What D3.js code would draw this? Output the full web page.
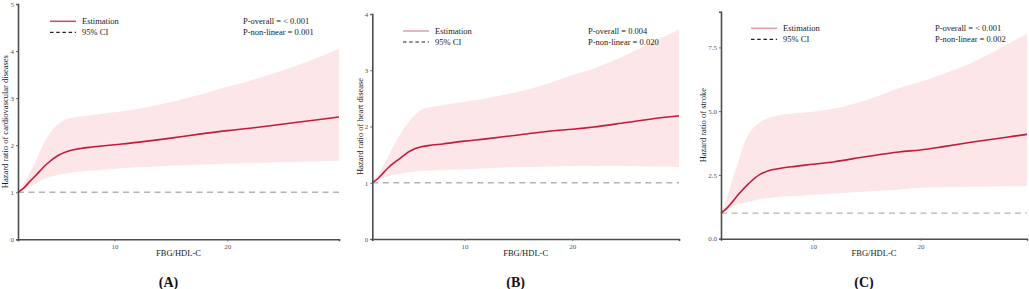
<!DOCTYPE html>
<html><head><meta charset="utf-8">
<script src="https://cdn.jsdelivr.net/npm/d3@7"></script>
<style>body{margin:0;background:#fff}svg{display:block}text{font-family:"Liberation Serif","Times New Roman",serif}</style>
</head><body><svg id="c" width="1029" height="289"></svg>
<script>
const xValues = [1.45, 2, 2.5, 3, 4, 5, 6, 7, 8, 10, 12, 15, 18, 20, 22, 25, 28, 29.9];
const estA   = [1, 1.1, 1.23, 1.35, 1.6, 1.78, 1.88, 1.93, 1.96, 2.01, 2.06, 2.15, 2.25, 2.31, 2.36, 2.45, 2.54, 2.60];
const upperA = [1, 1.2, 1.43, 1.65, 2.15, 2.45, 2.57, 2.61, 2.64, 2.70, 2.77, 2.92, 3.1, 3.24, 3.37, 3.6, 3.86, 4.05];
const lowerA = [1, 1.05, 1.12, 1.18, 1.3, 1.37, 1.41, 1.44, 1.46, 1.5, 1.53, 1.57, 1.59, 1.61, 1.62, 1.64, 1.66, 1.67];
const estB   = [1, 1.08, 1.18, 1.28, 1.43, 1.57, 1.64, 1.67, 1.69, 1.74, 1.78, 1.85, 1.92, 1.95, 1.99, 2.07, 2.15, 2.19];
const upperB = [1, 1.15, 1.32, 1.5, 1.85, 2.12, 2.3, 2.35, 2.38, 2.44, 2.5, 2.62, 2.78, 2.91, 3.03, 3.27, 3.55, 3.72];
const lowerB = [1, 1.04, 1.09, 1.12, 1.16, 1.19, 1.21, 1.22, 1.23, 1.24, 1.26, 1.28, 1.29, 1.30, 1.30, 1.30, 1.29, 1.28];
const estC   = [1, 1.2, 1.44, 1.7, 2.15, 2.5, 2.68, 2.76, 2.82, 2.92, 3.02, 3.22, 3.4, 3.48, 3.6, 3.8, 3.98, 4.09];
const upperC = [1, 1.6, 2.3, 2.95, 4.1, 4.55, 4.75, 4.85, 4.9, 4.98, 5.1, 5.44, 5.9, 6.16, 6.45, 6.94, 7.6, 8.05];
const lowerC = [1, 1.12, 1.25, 1.35, 1.45, 1.55, 1.6, 1.64, 1.67, 1.72, 1.77, 1.85, 1.93, 2.0, 2.02, 2.04, 2.06, 2.07];
const xTicks = [10, 20];
const yTicksA = [0, 1, 2, 3, 4, 5];
const yTicksB = [0, 1, 2, 3, 4];
const yTicksC = [0, 2.5, 5, 7.5];
const yTitles = ["Hazard ratio of cardiovascular diseases", "Hazard ratio of heart disease", "Hazard ratio of stroke"];
const pOverall = ["P-overall = < 0.001", "P-overall = 0.004", "P-overall = < 0.001"];
const pNonLinear = ["P-non-linear = 0.001", "P-non-linear = 0.020", "P-non-linear = 0.002"];
const panelLabels = ["(A)", "(B)", "(C)"];
const xTitle = "FBG/HDL-C";
const legendLabels = ["Estimation", "95% CI"];

const panels = [
  {est: estA, up: upperA, lo: lowerA, yTicks: yTicksA, yMax: 5, fmt: d3.format("d"),
   x0: 18, x1: 339, y0: 239.3, yTop: 4, yLab: 5, legX: 50, legY: 21.3, pX: 243, legColor: "#d9475e"},
  {est: estB, up: upperB, lo: lowerB, yTicks: yTicksB, yMax: 4, fmt: d3.format("d"),
   x0: 372.3, x1: 679, y0: 239, yTop: 14, yLab: 360, legX: 403, legY: 31, pX: 588, legColor: "#e69aa6"},
  {est: estC, up: upperC, lo: lowerC, yTicks: yTicksC, yMax: 8.9, fmt: d3.format(".1f"),
   x0: 721, x1: 1027, y0: 238.7, yTop: 11.7, yLab: 703, legX: 751, legY: 28.3, pX: 935, legColor: "#e69aa6"}
];

const svg = d3.select("#c");
const curve = d3.curveCatmullRom.alpha(0.5);
panels.forEach((p, i) => {
  const x = d3.scaleLinear().domain([xValues[0], xValues[xValues.length - 1]]).range([p.x0, p.x1]);
  const y = d3.scaleLinear().domain([0, p.yMax]).range([p.y0, p.yTop]);
  const g = svg.append("g");
  const rows = xValues.map((v, j) => ({x: v, e: p.est[j], u: p.up[j], l: p.lo[j]}));

  g.append("path").datum(rows)
    .attr("d", d3.area().curve(curve).x(d => x(d.x)).y0(d => y(d.l)).y1(d => y(d.u)))
    .attr("fill", "#fce6e8");

  g.append("line").attr("x1", x.range()[0]).attr("x2", x.range()[1])
    .attr("y1", y(1)).attr("y2", y(1))
    .attr("stroke", "#b3b3b3").attr("stroke-width", 1.3).attr("stroke-dasharray", "6,4.5");

  g.append("path").datum(rows)
    .attr("d", d3.line().curve(curve).x(d => x(d.x)).y(d => y(d.e)))
    .attr("fill", "none").attr("stroke", "#c41a3c").attr("stroke-width", 1.6);

  const yAxis = g.append("g").attr("transform", `translate(${p.x0},0)`)
    .call(d3.axisLeft(y).tickValues(p.yTicks).tickFormat(p.fmt).tickSize(2).tickPadding(2));
  const xAxis = g.append("g").attr("transform", `translate(0,${p.y0})`)
    .call(d3.axisBottom(x).tickValues(xTicks).tickSize(2).tickPadding(3));
  [xAxis, yAxis].forEach(a => {
    a.select(".domain").attr("stroke", "#4d4d4d").attr("stroke-width", 1.6);
    a.selectAll(".tick line").attr("stroke", "#666");
    a.selectAll(".tick text").attr("fill", "#555").style("font-size", "7px")
      .style("font-family", '"Liberation Serif", serif');
  });

  g.append("text").attr("transform", `translate(${p.yLab + 3},${(p.y0 + p.yTop) / 2}) rotate(-90)`)
    .attr("text-anchor", "middle").style("font-size", "8.5px").attr("fill", "#1a1a1a").text(yTitles[i]);
  g.append("text").attr("x", (p.x0 + p.x1) / 2).attr("y", 256)
    .attr("text-anchor", "middle").style("font-size", "8.5px").attr("fill", "#1a1a1a").text(xTitle);
  g.append("text").attr("x", (p.x0 + p.x1) / 2 - 10).attr("y", 287)
    .attr("text-anchor", "middle").style("font-size", "14px").style("font-weight", "bold").attr("fill", "#111").text(panelLabels[i]);

  // legend
  g.append("line").attr("x1", p.legX).attr("x2", p.legX + 26).attr("y1", p.legY).attr("y2", p.legY)
    .attr("stroke", p.legColor).attr("stroke-width", 1.5);
  g.append("line").attr("x1", p.legX).attr("x2", p.legX + 26).attr("y1", p.legY + 11).attr("y2", p.legY + 11)
    .attr("stroke", "#222").attr("stroke-width", 1.2).attr("stroke-dasharray", "3.5,2.7");
  legendLabels.forEach((t, k) => {
    g.append("text").attr("x", p.legX + 32).attr("y", p.legY + 11 * k + 3)
      .style("font-size", "8.5px").attr("fill", "#222").text(t);
  });
  g.append("text").attr("x", p.pX).attr("y", p.legY + 3).style("font-size", "8.5px").attr("fill", "#222").text(pOverall[i]);
  g.append("text").attr("x", p.pX).attr("y", p.legY + 14).style("font-size", "8.5px").attr("fill", "#222").text(pNonLinear[i]);
});
</script></body></html>
